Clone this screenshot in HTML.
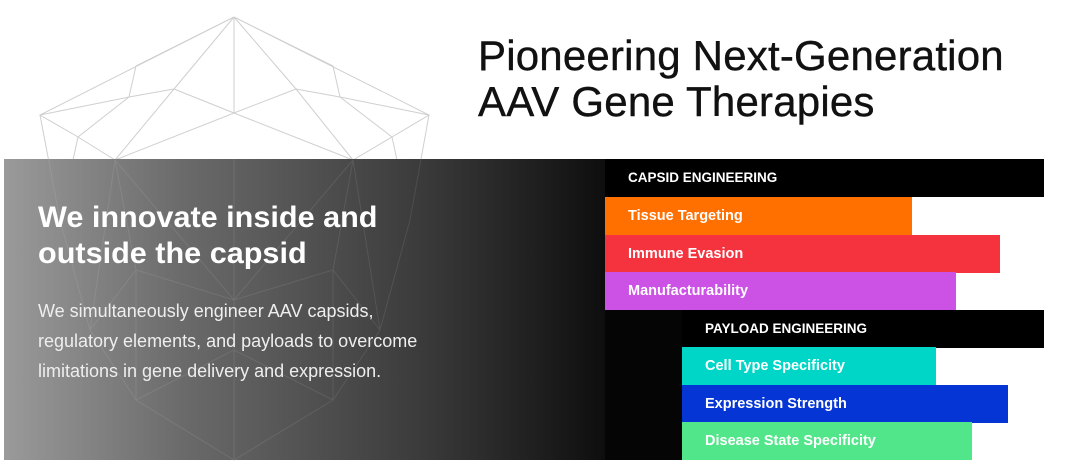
<!DOCTYPE html>
<html><head><meta charset="utf-8"><style>
body{margin:0;width:1080px;height:474px;background:#fff;position:relative;overflow:hidden;font-family:"Liberation Sans",sans-serif}
.abs{position:absolute}
.title{left:478px;top:33px;font-size:42px;line-height:46px;color:#111;white-space:nowrap;letter-spacing:0.2px;-webkit-text-stroke:0.4px #111}
.panel{left:4px;top:159px;width:601px;height:301px;background:linear-gradient(90deg,#9a9a9a 0%,#6a6a6a 30%,#3a3a3a 70%,#0e0e0e 100%)}
.blk{left:605px;top:310px;width:77px;height:150px;background:#050505}
.h1{left:38px;top:200px;color:#fff;font-size:30px;line-height:36px;font-weight:bold;transform:scaleX(1.02);transform-origin:0 0;white-space:nowrap}
.p{left:38px;top:296px;color:#eee;font-size:18px;line-height:30px;white-space:nowrap}
.bar{position:absolute;height:38px;color:#fff;font-weight:bold;font-size:14.5px;line-height:38px;box-sizing:border-box;padding-left:23px;white-space:nowrap}
.hd{font-size:13.5px}
</style></head><body>
<svg class="abs" style="left:0;top:0" width="480" height="474" viewBox="0 0 480 474" fill="none" stroke="#cfcfcf" stroke-width="1">
<g>
<path d="M234 17 L40 115 L78 137 L115 160 M234 17 L136 66 L129 97 L40 115 M234 17 L174 89 L115 160 M234 17 L234 113 M234 17 L296 89 L353 160 M234 17 L333 66 L340 97 L429 115 M234 17 L429 115 L392 137 L353 160"/>
<path d="M129 97 L174 89 L234 113 L296 89 L340 97 M129 97 L78 137 M340 97 L392 137 M115 160 L234 113 L353 160 M174 89 L234 113"/>
<path d="M40 115 L60 220 L90 330 L136 400 L234 460 L333 400 L380 330 L410 220 L429 115 M78 137 L60 220 M392 137 L410 220 M115 160 L90 330 M353 160 L380 330 M115 160 L136 270 L234 300 L333 270 L353 160 M136 270 L136 400 M333 270 L333 400 M234 300 L234 460 M115 160 L234 300 L353 160 M136 400 L234 350 L333 400 M90 330 L136 270 M380 330 L333 270"/>
</g>
</svg>
<div class="abs title">Pioneering Next-Generation<br>AAV Gene Therapies</div>
<div class="abs panel"></div>
<svg class="abs" style="left:0;top:159px" width="605" height="302" viewBox="0 159 605 302" fill="none" stroke="#ffffff" stroke-opacity="0.09" stroke-width="1">
<path d="M40 115 L60 220 L90 330 L136 400 L234 460 L333 400 L380 330 L410 220 L429 115 M115 160 L90 330 M353 160 L380 330 M115 160 L136 270 L234 300 L333 270 L353 160 M136 270 L136 400 M333 270 L333 400 M234 300 L234 460 M115 160 L234 300 L353 160 M136 400 L234 350 L333 400 M90 330 L136 270 M380 330 L333 270 M234 113 L234 300"/>
</svg>
<div class="abs blk"></div>
<div class="abs h1">We innovate inside and<br>outside the capsid</div>
<div class="abs p">We simultaneously engineer AAV capsids,<br>regulatory elements, and payloads to overcome<br>limitations in gene delivery and expression.</div>
<div class="bar hd" style="left:605px;top:159px;width:439px;background:#000">CAPSID ENGINEERING</div>
<div class="bar" style="left:605px;top:197px;width:307px;background:#ff7000">Tissue Targeting</div>
<div class="bar" style="left:605px;top:235px;width:395px;background:#f5333f">Immune Evasion</div>
<div class="bar" style="left:605px;top:272px;width:351px;background:#cc52e6">Manufacturability</div>
<div class="bar hd" style="left:682px;top:310px;width:362px;background:#000">PAYLOAD ENGINEERING</div>
<div class="bar" style="left:682px;top:347px;width:254px;background:#00d6c8">Cell Type Specificity</div>
<div class="bar" style="left:682px;top:385px;width:326px;background:#0635d6">Expression Strength</div>
<div class="bar" style="left:682px;top:422px;width:290px;height:38px;background:#52e68a">Disease State Specificity</div>
</body></html>
